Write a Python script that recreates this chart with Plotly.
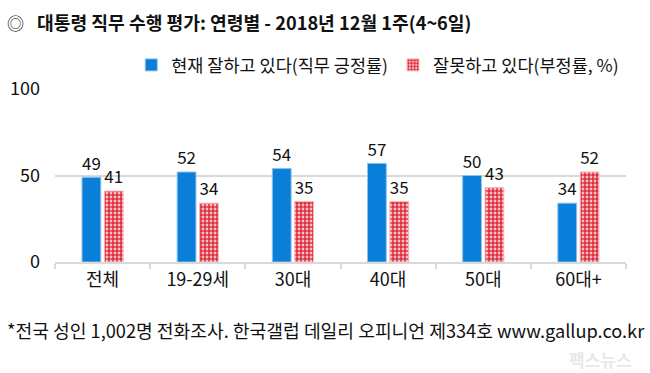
import plotly.graph_objects as go

categories = ["전체", "19-29세", "30대", "40대", "50대", "60대+"]
positive = [49, 52, 54, 57, 50, 34]
negative = [41, 34, 35, 35, 43, 52]
y_ticks = [0, 50, 100]

title_text = "<b>대통령 직무 수행 평가: 연령별 - 2018년 12월 1주(4~6일)</b>"
footnote = "*전국 성인 1,002명 전화조사. 한국갤럽 데일리 오피니언 제334호 www.gallup.co.kr"
name_pos = "현재 잘하고 있다(직무 긍정률)"
name_neg = "잘못하고 있다(부정률, %)"

FONT = "Noto Sans CJK KR"
BLUE = "#0a7fd9"
RED = "#e0303e"

fig = go.Figure()
fig.add_trace(go.Bar(
    x=categories, y=positive, name=name_pos,
    marker=dict(color=BLUE, line=dict(color="#8fc0ea", width=1)),
    text=positive, textposition="outside", cliponaxis=False,
    textfont=dict(size=18, color="#111111", family=FONT),
))
fig.add_trace(go.Bar(
    x=categories, y=negative, name=name_neg,
    marker=dict(color="white",
                line=dict(color="#f4b8be", width=1),
                pattern=dict(shape=".", fgcolor=RED, bgcolor="white",
                             size=4, solidity=0.72, fillmode="replace")),
    text=negative, textposition="outside", cliponaxis=False,
    textfont=dict(size=18, color="#111111", family=FONT),
))

fig.update_layout(
    width=650, height=373,
    margin=dict(l=55, r=24, t=89, b=111, autoexpand=False),
    paper_bgcolor="white", plot_bgcolor="white",
    font=dict(family=FONT, size=18, color="#111111"),
    barmode="group", bargap=0.53, bargroupgap=0.16,
    showlegend=True,
    legend=dict(orientation="h", x=648 / 650, xanchor="right",
                y=(373 - 65) / 373, yref="container", yanchor="middle",
                font=dict(size=17.5, family=FONT),
                itemwidth=30, tracegroupgap=0, bgcolor="rgba(0,0,0,0)"),
    xaxis=dict(showline=True, linecolor="#d9d9d9", linewidth=2,
               ticks="outside", tickson="boundaries", ticklen=5,
               tickcolor="#d9d9d9", tickwidth=2,
               tickfont=dict(size=18, family=FONT), showgrid=False),
    yaxis=dict(range=[0, 100], tickvals=y_ticks, showgrid=True,
               gridcolor="#d9d9d9", gridwidth=2, zeroline=False,
               ticks="", ticklabelstandoff=14,
               tickfont=dict(size=18, family=FONT)),
)

fig.add_annotation(text="◎", xref="paper", yref="paper", x=0, xshift=-50,
                   y=1, yshift=67, xanchor="left", yanchor="middle",
                   showarrow=False, font=dict(size=17, family=FONT, color="#111111"))
fig.add_annotation(text=title_text, xref="paper", yref="paper", x=0, xshift=-20,
                   y=1, yshift=67, xanchor="left", yanchor="middle",
                   showarrow=False, font=dict(size=18.2, family=FONT, color="#111111"))
fig.add_annotation(text=footnote, xref="paper", yref="paper", x=0, xshift=-50,
                   y=0, yshift=-68, xanchor="left", yanchor="middle",
                   showarrow=False, font=dict(size=18.2, family=FONT, color="#111111"))
fig.add_annotation(text="<b>팩스뉴스</b>", xref="paper", yref="paper", x=1, xshift=8,
                   y=0, yshift=-97, xanchor="right", yanchor="middle",
                   showarrow=False, font=dict(size=17, family=FONT, color="#e8e8e8"))

fig.write_html("out.html", config={"displayModeBar": False},
               post_script="document.body.style.margin='0';")
